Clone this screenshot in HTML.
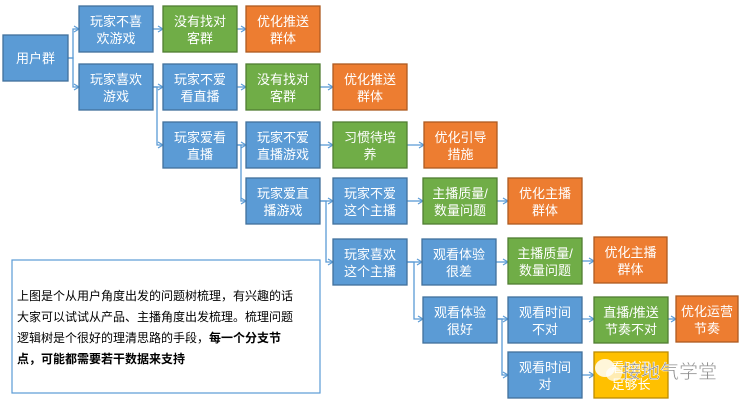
<!DOCTYPE html>
<html><head><meta charset="utf-8">
<style>
html,body{margin:0;padding:0;background:#fff;}
svg{display:block;}
.t{font-family:"Liberation Sans","Noto Sans CJK SC","WenQuanYi Zen Hei",sans-serif;font-size:13px;fill:#fff;text-anchor:middle;}
.b{fill:#5b9bd5;stroke:#41719c;stroke-width:1.3;}
.g{fill:#70ad47;stroke:#507e32;stroke-width:1.3;}
.o{fill:#ed7d31;stroke:#ae5a21;stroke-width:1.3;}
.y{fill:#ffc000;stroke:#bc8c00;stroke-width:1.3;}
.l{fill:none;stroke:#5b9bd5;stroke-width:1.3;}
.p{font-family:"Liberation Sans","Noto Sans CJK SC","WenQuanYi Zen Hei",sans-serif;font-size:12px;fill:#000;}
</style></head><body>
<svg width="745" height="402" viewBox="0 0 745 402" xmlns="http://www.w3.org/2000/svg">
<defs>
<marker id="a" markerWidth="8" markerHeight="8" refX="6" refY="4" orient="auto" markerUnits="userSpaceOnUse">
<path d="M1,1 L6,4 L1,7" fill="none" stroke="#5b9bd5" stroke-width="1.2"/>
</marker>
</defs>
<g class="l" marker-end="url(#a)">
<path d="M68,58 H73 V29 H79"/>
<path d="M68,58 H73 V87 H79"/>
<path d="M153,29 H163"/>
<path d="M237,29 H246"/>
<path d="M153,87 H157 V87 H163"/>
<path d="M153,87 H157 V145 H163"/>
<path d="M237,87 H246"/>
<path d="M320,87 H333"/>
<path d="M237,145 H241 V145 H246"/>
<path d="M237,145 H241 V201 H246"/>
<path d="M320,145 H333"/>
<path d="M407,145 H424"/>
<path d="M320,201 H326 V201 H333"/>
<path d="M320,201 H326 V262 H333"/>
<path d="M407,201 H423"/>
<path d="M497,201 H508"/>
<path d="M407,262 H414 V262 H422"/>
<path d="M407,262 H414 V319 H423"/>
<path d="M496,262 H508"/>
<path d="M582,261 H594"/>
<path d="M497,319 H502 V319 H508"/>
<path d="M497,319 H502 V375 H508"/>
<path d="M582,319 H594"/>
<path d="M668,319 H676"/>
<path d="M582,375 H594"/>
</g>
<rect class="b" x="3" y="35" width="65" height="46"/><text class="t" x="35.5" y="63">用户群</text>

<rect class="b" x="79" y="6" width="74" height="46"/><text class="t" x="116" y="26">玩家不喜</text><text class="t" x="116" y="43">欢游戏</text>
<rect class="g" x="163" y="6" width="74" height="46"/><text class="t" x="200" y="26">没有找对</text><text class="t" x="200" y="43">客群</text>
<rect class="o" x="246" y="6" width="74" height="46"/><text class="t" x="283" y="26">优化推送</text><text class="t" x="283" y="43">群体</text>

<rect class="b" x="79" y="64" width="74" height="46"/><text class="t" x="116" y="84">玩家喜欢</text><text class="t" x="116" y="101">游戏</text>
<rect class="b" x="163" y="64" width="74" height="46"/><text class="t" x="200" y="84">玩家不爱</text><text class="t" x="200" y="101">看直播</text>
<rect class="g" x="246" y="64" width="74" height="46"/><text class="t" x="283" y="84">没有找对</text><text class="t" x="283" y="101">客群</text>
<rect class="o" x="333" y="64" width="74" height="46"/><text class="t" x="370" y="84">优化推送</text><text class="t" x="370" y="101">群体</text>

<rect class="b" x="163" y="122" width="74" height="46"/><text class="t" x="200" y="142">玩家爱看</text><text class="t" x="200" y="159">直播</text>
<rect class="b" x="246" y="122" width="74" height="46"/><text class="t" x="283" y="142">玩家不爱</text><text class="t" x="283" y="159">直播游戏</text>
<rect class="g" x="333" y="122" width="74" height="46"/><text class="t" x="370" y="142">习惯待培</text><text class="t" x="370" y="159">养</text>
<rect class="o" x="424" y="122" width="73" height="46"/><text class="t" x="460.5" y="142">优化引导</text><text class="t" x="460.5" y="159">措施</text>

<rect class="b" x="246" y="178" width="74" height="46"/><text class="t" x="283" y="198">玩家爱直</text><text class="t" x="283" y="215">播游戏</text>
<rect class="b" x="333" y="178" width="74" height="46"/><text class="t" x="370" y="198">玩家不爱</text><text class="t" x="370" y="215">这个主播</text>
<rect class="g" x="423" y="178" width="74" height="46"/><text class="t" x="460" y="198">主播质量/</text><text class="t" x="460" y="215">数量问题</text>
<rect class="o" x="508" y="178" width="74" height="46"/><text class="t" x="545" y="198">优化主播</text><text class="t" x="545" y="215">群体</text>

<rect class="b" x="333" y="239" width="74" height="46"/><text class="t" x="370" y="259">玩家喜欢</text><text class="t" x="370" y="276">这个主播</text>
<rect class="b" x="422" y="239" width="74" height="46"/><text class="t" x="459" y="259">观看体验</text><text class="t" x="459" y="276">很差</text>
<rect class="g" x="508" y="238" width="74" height="46"/><text class="t" x="545" y="258">主播质量/</text><text class="t" x="545" y="275">数量问题</text>
<rect class="o" x="594" y="237" width="73" height="46"/><text class="t" x="630.5" y="257">优化主播</text><text class="t" x="630.5" y="274">群体</text>

<rect class="b" x="423" y="297" width="74" height="46"/><text class="t" x="460" y="317">观看体验</text><text class="t" x="460" y="334">很好</text>
<rect class="b" x="508" y="297" width="74" height="46"/><text class="t" x="545" y="317">观看时间</text><text class="t" x="545" y="334">不对</text>
<rect class="g" x="594" y="297" width="74" height="46"/><text class="t" x="631" y="317">直播/推送</text><text class="t" x="631" y="334">节奏不对</text>
<rect class="o" x="676" y="296" width="62" height="46"/><text class="t" x="707" y="316">优化运营</text><text class="t" x="707" y="333">节奏</text>

<rect class="b" x="508" y="352" width="74" height="46"/><text class="t" x="545" y="372">观看时间</text><text class="t" x="545" y="389">对</text>
<rect class="y" x="594" y="352" width="74" height="46"/><text class="t" x="631" y="372">看时间</text><text class="t" x="631" y="389">足够长</text>

<ellipse cx="605" cy="368" rx="10" ry="9" fill="#fff" opacity="0.85"/>
<ellipse cx="614" cy="374" rx="8" ry="7" fill="#fff" opacity="0.7"/>
<text x="622" y="378" font-family="Liberation Sans,Noto Sans CJK SC,sans-serif" font-size="19" fill="#888" stroke="#fff" stroke-width="0.5">接地气学堂</text>

<rect x="12" y="260" width="308" height="133" fill="#fff" stroke="#5b9bd5" stroke-width="1.2"/>
<text class="p" x="17" y="300">上图是个从用户角度出发的问题树梳理，有兴趣的话</text>
<text class="p" x="17" y="321">大家可以试试从产品、主播角度出发梳理。梳理问题</text>
<text class="p" x="17" y="342">逻辑树是个很好的理清思路的手段，<tspan font-weight="bold">每一个分支节</tspan></text>
<text class="p" x="17" y="363" font-weight="bold">点，可能都需要若干数据来支持</text>
</svg>
</body></html>
